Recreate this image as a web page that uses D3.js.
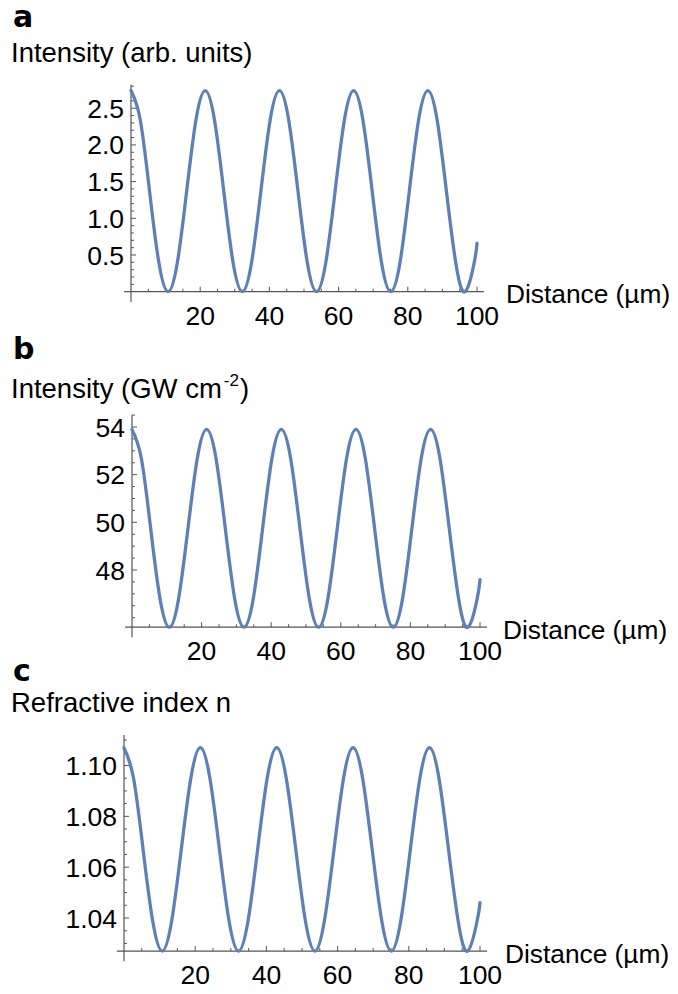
<!DOCTYPE html>
<html>
<head>
<meta charset="utf-8">
<script src="https://cdn.jsdelivr.net/npm/d3@7"></script>
<style>
  body { margin: 0; background: #fff; }
  text { font-family: "Liberation Sans", Arial, sans-serif; fill: #000; }
  .letter { font-family: "DejaVu Sans", sans-serif; font-weight: bold; font-size: 30px; }
</style>
</head>
<body>
<svg id="chart"></svg>
<script>
// distance samples (µm)
const distance = [0, 2.68, 5.36, 8.04, 10.73, 13.41, 16.09, 18.77, 21.45, 24.13, 26.81, 29.49,
    32.18, 34.86, 37.54, 40.22, 42.90, 45.58, 48.26, 50.94, 53.63, 56.31, 58.99, 61.67,
    64.35, 67.03, 69.71, 72.39, 75.08, 77.76, 80.44, 83.12, 85.80, 88.48, 91.16, 93.84,
    96.53, 99.21, 100];

// panel a: intensity (arb. units)
const intensityArb = [2.74, 2.34, 1.37, 0.40, 0.00, 0.40, 1.37, 2.34,
    2.74, 2.34, 1.37, 0.40, 0.00, 0.40, 1.37, 2.34,
    2.74, 2.34, 1.37, 0.40, 0.00, 0.40, 1.37, 2.34,
    2.74, 2.34, 1.37, 0.40, 0.00, 0.40, 1.37, 2.34,
    2.74, 2.34, 1.37, 0.40, 0.00, 0.40, 0.66];

// panel b: intensity (GW cm^-2)
const intensityGW = [53.9, 52.69, 49.75, 46.81, 45.6, 46.81, 49.75, 52.69,
    53.9, 52.69, 49.75, 46.81, 45.6, 46.81, 49.75, 52.69,
    53.9, 52.69, 49.75, 46.81, 45.6, 46.81, 49.75, 52.69,
    53.9, 52.69, 49.75, 46.81, 45.6, 46.81, 49.75, 52.69,
    53.9, 52.69, 49.75, 46.81, 45.6, 46.81, 47.6];

// panel c: refractive index n
const refIndex = [1.107, 1.095, 1.067, 1.039, 1.027, 1.039, 1.067, 1.095,
    1.107, 1.095, 1.067, 1.039, 1.027, 1.039, 1.067, 1.095,
    1.107, 1.095, 1.067, 1.039, 1.027, 1.039, 1.067, 1.095,
    1.107, 1.095, 1.067, 1.039, 1.027, 1.039, 1.067, 1.095,
    1.107, 1.095, 1.067, 1.039, 1.027, 1.039, 1.046];

// tick labels
const xTicks = [20, 40, 60, 80, 100];
const aTicks = [0.5, 1.0, 1.5, 2.0, 2.5];
const bTicks = [48, 50, 52, 54];
const cTicks = [1.04, 1.06, 1.08, 1.10];

const lineColor = '#5e81b5';
const axisColor = '#555';

const svg = d3.select('#chart')
    .attr('width', 678)
    .attr('height', 994);

svg.append('rect').attr('width', 678).attr('height', 994).attr('fill', '#fff');

const panels = [
    {
        letter: 'a', letterY: 27, titleY: 62, title: ['Intensity (arb. units)'],
        values: intensityArb, ticks: aTicks, fmt: d3.format('.1f'), minorStep: 0.1,
        xRange: [131, 477], yDomain: [0, 2.5], yRange: [291.7, 108.2],
        yExtent: [-0.14, 2.82], labelDx: 29
    },
    {
        letter: 'b', letterY: 359, titleY: 398, title: ['Intensity (GW cm', '-2', ')'],
        values: intensityGW, ticks: bTicks, fmt: d3.format('d'), minorStep: 0.5,
        xRange: [132, 480], yDomain: [48, 54], yRange: [570, 427],
        yExtent: [45.18, 54.5], labelDx: 23
    },
    {
        letter: 'c', letterY: 681, titleY: 712, title: ['Refractive index n'],
        values: refIndex, ticks: cTicks, fmt: d3.format('.2f'), minorStep: 0.005,
        xRange: [124, 480], yDomain: [1.04, 1.10], yRange: [918, 765.5],
        yExtent: [1.023, 1.112], labelDx: 25
    }
];

function drawPanel(p) {
    const x = d3.scaleLinear().domain([0, 100]).range(p.xRange);
    const y = d3.scaleLinear().domain(p.yDomain).range(p.yRange);
    const base = d3.min(p.values); // x axis sits at the curve minimum
    const y0 = y(base);
    const g = svg.append('g');

    // panel letter and title
    g.append('text').attr('class', 'letter')
        .attr('x', 13).attr('y', p.letterY).text(p.letter);

    const title = g.append('text')
        .attr('x', 11).attr('y', p.titleY)
        .style('font-size', '27.5px');
    title.append('tspan').text(p.title[0]);
    if (p.title.length > 1) {
        title.append('tspan').attr('dx', 2).attr('dy', -12).style('font-size', '17px').text(p.title[1]);
        title.append('tspan').attr('dx', 1).attr('dy', 12).text(p.title[2]);
    }

    // axes lines
    g.append('line')
        .attr('x1', x(-2)).attr('x2', x(102))
        .attr('y1', y0).attr('y2', y0)
        .attr('stroke', axisColor).attr('stroke-width', 1.2);
    g.append('line')
        .attr('x1', x(0)).attr('x2', x(0))
        .attr('y1', y(p.yExtent[0])).attr('y2', y(p.yExtent[1]))
        .attr('stroke', axisColor).attr('stroke-width', 1.2);

    // x ticks (pointing up)
    const xMinor = d3.range(5, 101, 5).filter((d) => !xTicks.includes(d));
    g.selectAll('.xminor').data(xMinor).enter().append('line')
        .attr('x1', (d) => x(d)).attr('x2', (d) => x(d))
        .attr('y1', y0).attr('y2', y0 - 3)
        .attr('stroke', axisColor);
    g.selectAll('.xmajor').data(xTicks).enter().append('line')
        .attr('x1', (d) => x(d)).attr('x2', (d) => x(d))
        .attr('y1', y0).attr('y2', y0 - 5)
        .attr('stroke', axisColor);
    g.selectAll('.xlab').data(xTicks).enter().append('text')
        .attr('x', (d) => x(d)).attr('y', y0 + 33)
        .attr('text-anchor', 'middle')
        .style('font-size', '26.5px')
        .text((d) => d);

    // y ticks (pointing right)
    const step = p.minorStep;
    const first = Math.ceil(base / step - 1e-6);
    const last = Math.floor(p.yExtent[1] / step + 1e-6);
    const yMinor = d3.range(first, last + 1).map((k) => k * step)
        .filter((v) => v > base + step / 4 && !p.ticks.some((t) => Math.abs(t - v) < step / 4));
    g.selectAll('.yminor').data(yMinor).enter().append('line')
        .attr('x1', x(0)).attr('x2', x(0) + 3)
        .attr('y1', (d) => y(d)).attr('y2', (d) => y(d))
        .attr('stroke', axisColor);
    g.selectAll('.ymajor').data(p.ticks).enter().append('line')
        .attr('x1', x(0)).attr('x2', x(0) + 5)
        .attr('y1', (d) => y(d)).attr('y2', (d) => y(d))
        .attr('stroke', axisColor);
    g.selectAll('.ylab').data(p.ticks).enter().append('text')
        .attr('x', x(0) - 7).attr('y', (d) => y(d))
        .attr('dy', '0.36em')
        .attr('text-anchor', 'end')
        .style('font-size', '26.5px')
        .text((d) => p.fmt(d));

    // axis label
    g.append('text')
        .attr('x', x(100) + p.labelDx).attr('y', y0 + 11.5)
        .style('font-size', '26.3px')
        .text('Distance (µm)');

    // curve
    const line = d3.line()
        .x((d, i) => x(distance[i]))
        .y((d) => y(d))
        .curve(d3.curveNatural);
    g.append('path')
        .datum(p.values)
        .attr('d', line)
        .attr('fill', 'none')
        .attr('stroke', lineColor)
        .attr('stroke-width', 3.3)
        .attr('stroke-linecap', 'round');
}

panels.forEach(drawPanel);
</script>
</body>
</html>
